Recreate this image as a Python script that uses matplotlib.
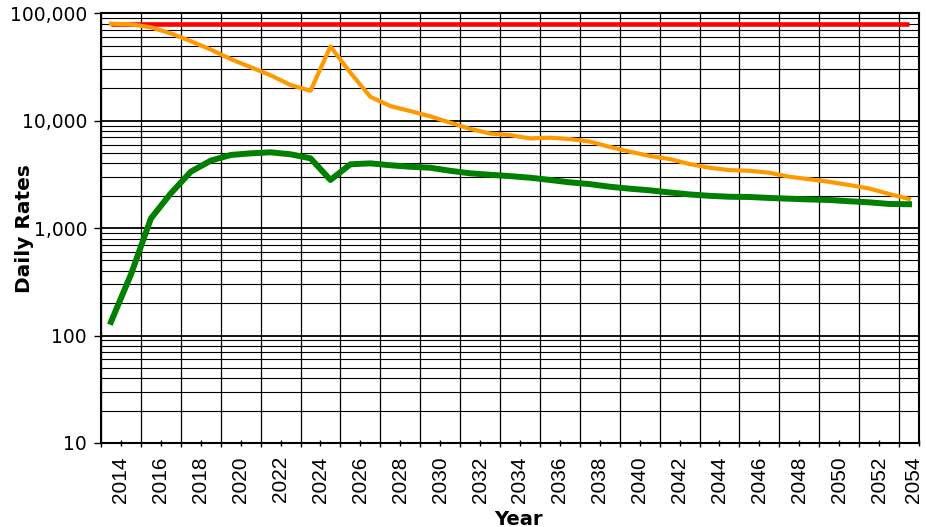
import matplotlib
matplotlib.use("Agg")
import matplotlib.pyplot as plt
import matplotlib.ticker as mticker
import matplotlib.transforms as mtransforms
import numpy as np

# one point per year, drawn at mid-year
years = np.arange(2013, 2054)

cap = [80000] * len(years)

high = [80000, 79000, 74000, 65000, 55000, 46000, 37500, 31500, 26500, 21500,
        19000, 49000, 28000, 16700, 13700, 12300, 11000, 9600, 8400, 7600,
        7350, 6850, 6950, 6750, 6400, 5700, 5150, 4700, 4400, 3950,
        3650, 3470, 3420, 3280, 3010, 2850, 2700, 2520, 2340, 2080, 1870]

low = [134, 370, 1230, 2110, 3350, 4250, 4800, 4970, 5080, 4870,
       4470, 2810, 3930, 4010, 3850, 3730, 3650, 3420, 3240, 3140,
       3050, 2950, 2810, 2670, 2570, 2430, 2330, 2250, 2150, 2060,
       2000, 1960, 1950, 1910, 1880, 1850, 1830, 1780, 1740, 1680, 1670]

label_years = list(range(2014, 2055, 2))
grid_years = list(range(2013, 2054, 2))

fig = plt.figure(figsize=(9.26, 5.27), dpi=100)
ax = fig.add_axes([101 / 926, 1 - 443 / 527, 818 / 926, 429.7 / 527])

x = years + 0.5
ax.plot(x, cap, color="#FF0000", lw=3.3, solid_capstyle="butt", zorder=3)
ax.plot(x, high, color="#FF9900", lw=3.0, zorder=4)
ax.plot(x, low, color="#008000", lw=4.3, zorder=5)

ax.set_yscale("log")
ax.set_ylim(10, 100000)
ax.set_xlim(2013, 2054)

ax.yaxis.set_major_locator(mticker.LogLocator(base=10))
ax.yaxis.set_minor_locator(mticker.LogLocator(base=10, subs=range(2, 10)))
ax.yaxis.set_major_formatter(mticker.FuncFormatter(lambda v, _: f"{v:,.0f}"))
ax.yaxis.set_minor_formatter(mticker.NullFormatter())

ax.set_xticks(label_years)
ax.set_xticks(grid_years, minor=True)
ax.set_xticklabels([str(y) for y in label_years], rotation=90,
                   fontfamily="Liberation Sans", fontsize=15)

ax.grid(which="major", axis="y", color="black", lw=1.3)
ax.grid(which="minor", axis="y", color="black", lw=0.8)
ax.grid(which="minor", axis="x", color="black", lw=0.9)

ax.tick_params(axis="y", which="major", length=5, width=1, labelsize=13.5, pad=5)
ax.tick_params(axis="y", which="minor", length=0)
ax.tick_params(axis="x", which="major", direction="inout", length=5, width=1, pad=7)
ax.tick_params(axis="x", which="minor", direction="out", length=3, width=1)

# last label sits against the right edge, nudge it inside
last = ax.xaxis.get_major_ticks()[-1].label1
last.set_transform(last.get_transform() +
                   mtransforms.ScaledTranslation(-5 / 100, 0, fig.dpi_scale_trans))

for s in ax.spines.values():
    s.set_linewidth(1.5)
    s.set_color("black")

ax.set_ylabel("Daily Rates", fontsize=14.5, fontweight="bold")
ax.set_xlabel("Year", fontsize=14, fontweight="bold")
ax.xaxis.set_label_coords(0.51, -0.155)
ax.yaxis.set_label_coords(-0.082, 0.5)

fig.savefig("out.png", dpi=100)
